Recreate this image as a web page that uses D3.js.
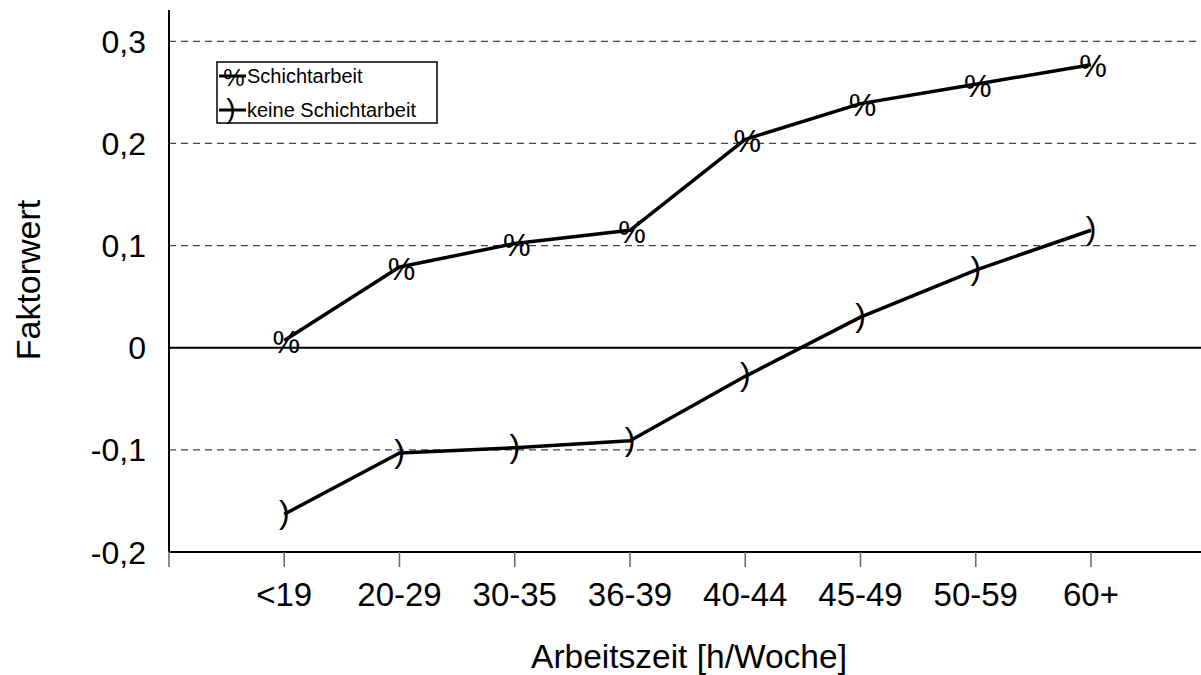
<!DOCTYPE html>
<html>
<head>
<meta charset="utf-8">
<script src="https://cdn.jsdelivr.net/npm/d3@7"></script>
<style>
  html, body { margin: 0; padding: 0; background: #fff; }
  svg { display: block; }
  text { font-family: "Liberation Sans", Arial, sans-serif; fill: #000; }
</style>
</head>
<body>
<svg id="chart" width="1201" height="675"></svg>
<script>
const categories = ["<19", "20-29", "30-35", "36-39", "40-44", "45-49", "50-59", "60+"];
const schicht = [0.007, 0.079, 0.102, 0.115, 0.204, 0.239, 0.258, 0.277];
const keine = [-0.163, -0.103, -0.098, -0.091, -0.028, 0.030, 0.076, 0.115];
const yTicks = [-0.2, -0.1, 0, 0.1, 0.2, 0.3];
const yTickLabels = ["-0,2", "-0,1", "0", "0,1", "0,2", "0,3"];
const seriesNames = ["Schichtarbeit", "keine Schichtarbeit"];
const seriesMarkers = ["%", ")"];
const xTitle = "Arbeitszeit [h/Woche]";
const yTitle = "Faktorwert";

const svg = d3.select("#chart");
const x0 = 169, yBottom = 552, yTopAxis = 10;
const step = 115.25;

const x = d3.scalePoint().domain(categories).range([x0, x0 + 9 * step]).padding(1);
const y = d3.scaleLinear().domain([-0.2, 0.3]).range([yBottom, 41.3]);

// gridlines (dashed) except zero and bottom
svg.append("g").selectAll("line")
  .data(yTicks.filter(v => v !== 0 && v !== -0.2))
  .join("line")
  .attr("x1", x0).attr("x2", 1201)
  .attr("y1", d => y(d)).attr("y2", d => y(d))
  .attr("stroke", "#444").attr("stroke-width", 1.3)
  .attr("stroke-dasharray", "7,5");

// zero line
svg.append("line")
  .attr("x1", x0).attr("x2", 1201)
  .attr("y1", y(0)).attr("y2", y(0))
  .attr("stroke", "#000").attr("stroke-width", 2);

// x axis line
svg.append("line")
  .attr("x1", x0).attr("x2", 1201)
  .attr("y1", y(-0.2)).attr("y2", y(-0.2))
  .attr("stroke", "#000").attr("stroke-width", 2);

// x ticks (origin and at categories)
const tickXs = [x0].concat(categories.map(c => x(c)));
svg.append("g").selectAll("line")
  .data(tickXs)
  .join("line")
  .attr("x1", d => d).attr("x2", d => d)
  .attr("y1", y(-0.2)).attr("y2", y(-0.2) + 15)
  .attr("stroke", "#666").attr("stroke-width", 1.5);

// y axis line
svg.append("line")
  .attr("x1", x0).attr("x2", x0)
  .attr("y1", yTopAxis).attr("y2", y(-0.2))
  .attr("stroke", "#000").attr("stroke-width", 2);

// y tick labels
svg.append("g").selectAll("text")
  .data(yTicks)
  .join("text")
  .attr("x", 146)
  .attr("y", d => y(d) + 11.5)
  .attr("text-anchor", "end")
  .attr("font-size", 32)
  .text((d, i) => yTickLabels[i]);

// x tick labels
svg.append("g").selectAll("text")
  .data(categories)
  .join("text")
  .attr("x", d => x(d))
  .attr("y", 606)
  .attr("text-anchor", "middle")
  .attr("font-size", 33)
  .text(d => d);

// axis titles
svg.append("text")
  .attr("x", 689).attr("y", 668)
  .attr("text-anchor", "middle")
  .attr("font-size", 33.5)
  .text(xTitle);

svg.append("text")
  .attr("transform", "translate(40,280) rotate(-90)")
  .attr("text-anchor", "middle")
  .attr("font-size", 34)
  .text(yTitle);

// series
const series = [schicht, keine];
const line = d3.line().x((d, i) => x(categories[i])).y(d => y(d));
const markerFont = [31, 32];
const markerDy = [12.5, 9];
const markerDx = [2, 0];

series.forEach((vals, si) => {
  svg.append("path")
    .datum(vals)
    .attr("d", line)
    .attr("fill", "none")
    .attr("stroke", "#000")
    .attr("stroke-width", 3.5)
    .attr("stroke-linejoin", "round");
  svg.append("g").selectAll("text")
    .data(vals)
    .join("text")
    .attr("x", (d, i) => x(categories[i]) + markerDx[si])
    .attr("y", d => y(d) + markerDy[si])
    .attr("text-anchor", "middle")
    .attr("font-size", markerFont[si])
    .text(seriesMarkers[si]);
});

// legend
const lg = svg.append("g");
lg.append("rect")
  .attr("x", 217).attr("y", 62)
  .attr("width", 220).attr("height", 61)
  .attr("fill", "#fff").attr("stroke", "#000").attr("stroke-width", 1.5);
const rowY = [76, 110];
const legendMarkerFont = [24, 28];
const legendMarkerDy = [9.5, 8];
seriesNames.forEach((name, i) => {
  lg.append("line")
    .attr("x1", 219).attr("x2", 246)
    .attr("y1", rowY[i]).attr("y2", rowY[i])
    .attr("stroke", "#000").attr("stroke-width", 3);
  lg.append("text")
    .attr("x", i === 0 ? 234 : 231)
    .attr("y", rowY[i] + legendMarkerDy[i])
    .attr("text-anchor", "middle")
    .attr("font-size", legendMarkerFont[i])
    .text(seriesMarkers[i]);
  lg.append("text")
    .attr("x", 247)
    .attr("y", rowY[i] + 7)
    .attr("font-size", 20)
    .text(name);
});
</script>
</body>
</html>
